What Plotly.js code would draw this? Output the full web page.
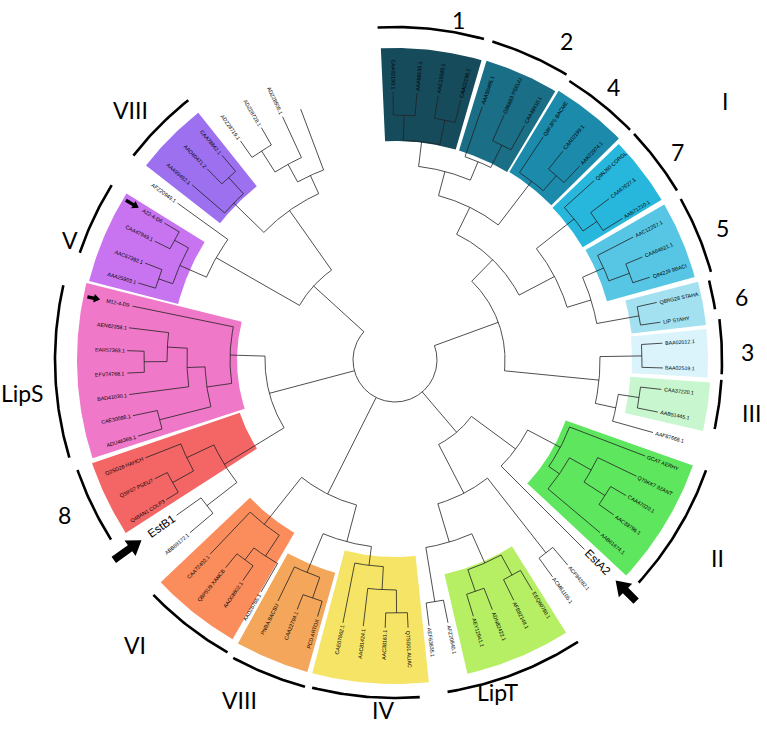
<!DOCTYPE html>
<html><head><meta charset="utf-8">
<script src="https://cdn.plot.ly/plotly-3.0.1.min.js"></script>
<style>html,body{margin:0;padding:0;background:#fff}#chart{width:767px;height:732px}</style>
</head><body><div id="chart"></div>
<script>
// ---------- DATA ----------
const leafNames = ["CAA02190.1","AAA88135.1","AAC15585.1","CAA02196.1","AAA50465.1","O86883 PSEUU","CAA48410.1",
"Q8KJP5 BACME","CAA02199.1","AAK22974.1","Q9NJ60 CORGL","CAA67627.1","AAB71210.1","AAC12257.1","CAA64621.1",
"Q842J9 9BACI","Q6RG28 STAHA","LIP STAHY","BAA02012.1","BAA02519.1","CAA37220.1","AAB51445.1","AAF87668.1",
"GCAT AERHY","Q79KK7 9ZANT","CAA47020.1","AAC38796.1","AAB61674.1","EstA2","ACF94282.1","ACM61105.1",
"EEQ60780.1","AFB82148.1","ADN82422.1","AEY12941.1","AFZ20840.1","AEF63835.1","Q7SG01 ALIAC","AAC38161.1",
"AAC81424.1","CAE07862.1","PCD ARTOX","CAA22794.1","PNBA BACSU","AAD26765.1","AAO08602.1","Q8P5U9 XANCB",
"CAA72402.1","ABB88172.1","EstB1","Q48AN1 COLP3","Q3IF07 PSEU7","Q2SD28 HAHCH","ADU46369.1","CAE30088.1",
"BAD41030.1","EFV74768.1","EAR57363.1","AEN62358.1","M12-4-D9","AAA25903.1","AAC67392.1","CAA47949.1",
"A22-4-D6","AFZ20949.1","AAA99492.1","AAO60471.2","CAA78842.1","ADZ28719.1","ADZ28728.1","ADZ28505.1",""];
const leafAngles = [-0.4,4.7,9.3,14.2,19,24,28.9,33.6,38.8,43.6,48,53,58.1,62.7,67.4,72,77.6,81.9,86.4,91.7,
96.3,101.2,105.7,111,115.7,120.4,125.3,130.1,135,139.9,144,149.2,153.7,158.7,163,168.6,172.7,177.2,182.1,
186.8,191.2,196.8,201.4,205.9,210,214.6,219.2,223.6,229.9,234.6,238.6,243.7,248.6,253.5,258,262.6,267.2,
272,276.9,281.6,286.7,291.2,296.3,300.7,305.8,310.8,315.5,319.8,324.8,330.1,335.2,339.4];
const boldLeaves = ["EstA2","EstB1"];

// tree topology: (children)nodeRadius, leaves given by index
const treeTop = "((((((0,1)245,(2,3)245)220,(4,(5,6)240)215)195,(7,(8,9)245)225)170,((10,(11,12)245)228,((13,(14,15)250)228,(16,17)248)205)180)140,((18,19)247,((20,21)247,22)226)205)110";
const treeRight = "(((23,((24,(25,26)250)225,27)200)187,28)150,((29,30)245,(((31,32)245,(33,34)245)222,(35,36)245)190)150)95";
const treeBottom = "((((((37,38)253,39)230,40)207,((41,42)252,43)230)188,((44,(45,46)250)235,47)210)150)";
const treeLeft = "(((48,49)238,((50,51)254,52)230)200,(((((56,57)251,58)228,55)208,(53,54)243)190,59)165)130";
const treeUpper = "((((60,61)250,(62,63)251)235,64)206,((65,(66,67)247)225,(((68,69)248,70)223,71)203)183)110";
const rootRadius = 42;

// coloured clade sectors
const sectorNames = ["1","2","4","7","5","6","3","III","II","LipT","IV","VIIIb","VI","8","LipS","V","VIIIt"];
const sectorA0 = [-2.6,17,31.3,46,60,75.5,84.3,94.1,109.5,147.9,174,195.7,210.2,237.3,252,284.5,308];
const sectorA1 = [16.1,30.8,45.3,59,74.5,83.6,93.2,103,133,167,194.8,209,226.5,251.2,284,301.8,321.5];
const sectorR0 = [219,219,220,219,220,238,237,236,181,220,197,221,200,164,158,224,222];
const sectorR1 = [312,313,315,311,311,313,313,316,316,322,324,324,323,320,318,316,316];
const sectorColors = ["#164b5c","#1a6e86","#1b8aab","#27b7dd","#56c6e4","#a3e1f1","#dbf4fb","#c8f6cf",
"#5ee65e","#b6ef63","#f6e466","#f4a65a","#fb8d5d","#f46565","#f078c8","#c874f0","#9d70f0"];

// thick group arcs
const arcA0 = [-3,17,32,46.6,60.6,75.8,82.8,93.5,109.5,147,175.8,195.4,209.8,237.7,253.3,288.8,308];
const arcA1 = [15.5,31,45.6,59,74.4,81,92.5,102.2,132.4,171,194.2,208.5,225.8,250.9,282.7,301.7,321.5];
const arcR  = [333,333,329,329,328,324,327,327,330,336,338,339,337,336,340,333,332];

// group labels
const groupText = ["1","2","4","7","5","6","3","III","I","II","LipT","IV","VIII","VI","8","LipS","V","VIII"];
const groupAngle = [10.6,28.2,38.7,53.7,68,79.7,88.7,98.5,51.9,121.5,162.9,181.9,204.5,222.4,244.8,265,290.3,313.3];
const groupRadius = [346,362,350,351,353,352,353,360,419,378,347,350,374,386,365,374,346,364];

// arrows (leaf index, tail radius, head radius, size)
const arrowLeaf = [49,28,59,63];
const arrowTail = [345,341,314,313];
const arrowHead = [311,312,301,298];
const arrowSize = [1,1,0.45,0.45];

// ---------- GEOMETRY ----------
const CX = 395, CY = 360, TIP = 268;
const rad = d => d*Math.PI/180;
const px = (a,r) => CX + r*Math.sin(rad(a));
const py = (a,r) => CY - r*Math.cos(rad(a));

function parse(s){
  let i=0;
  function node(){
    if(s[i]==='('){
      i++; const kids=[];
      while(i<s.length){ kids.push(node()); if(s[i]===','){i++;continue;} if(s[i]===')'){i++;break;} break; }
      let num=''; while(i<s.length && /[0-9.]/.test(s[i])) num+=s[i++];
      return {kids, r: num===''?null:+num};
    } else {
      let num=''; while(i<s.length && /[0-9]/.test(s[i])) num+=s[i++];
      return {leaf:+num};
    }
  }
  return node();
}
const subtrees = [treeTop,treeRight,treeBottom,treeLeft,treeUpper].map(parse);
const rootKids = subtrees.map(t => (t.r===null && t.kids && t.kids.length===1) ? t.kids[0] : t);
const root = {kids: rootKids, r: rootRadius};

const tx=[], ty=[];
function arc(a0,a1,r,X,Y){ const n=Math.max(2,Math.ceil(Math.abs(a1-a0)/0.5)); for(let k=0;k<=n;k++){const a=a0+(a1-a0)*k/n; X.push(px(a,r)); Y.push(py(a,r));} }
function layout(n){
  if(n.leaf!==undefined){ n.ang=leafAngles[n.leaf]; n.rr=TIP; return; }
  n.kids.forEach(layout);
  const as=n.kids.map(k=>k.ang);
  n.a0=Math.min(...as); n.a1=Math.max(...as); n.ang=(n.a0+n.a1)/2; n.rr=n.r;
  arc(n.a0,n.a1,n.r,tx,ty); tx.push(null); ty.push(null);
  n.kids.forEach(k=>{ tx.push(px(k.ang,n.r),px(k.ang,k.rr),null); ty.push(py(k.ang,n.r),py(k.ang,k.rr),null); });
}
layout(root);

const traces=[];
sectorNames.forEach((nm,i)=>{
  const X=[],Y=[];
  arc(sectorA0[i],sectorA1[i],sectorR1[i],X,Y);
  arc(sectorA1[i],sectorA0[i],sectorR0[i],X,Y);
  X.push(X[0]); Y.push(Y[0]);
  traces.push({type:'scatter',mode:'lines',x:X,y:Y,fill:'toself',fillcolor:sectorColors[i],line:{width:0,color:sectorColors[i]},hoverinfo:'skip',name:nm});
});
traces.push({type:'scatter',mode:'lines',x:tx,y:ty,line:{color:'#222',width:0.8},hoverinfo:'skip',connectgaps:false});
arcR.forEach((r,i)=>{ const X=[],Y=[]; arc(arcA0[i],arcA1[i],r,X,Y);
  traces.push({type:'scatter',mode:'lines',x:X,y:Y,line:{color:'#000',width:2.6},hoverinfo:'skip'}); });
arrowLeaf.forEach((lf,i)=>{
  const a=leafAngles[lf], s=arrowSize[i];
  const x0=px(a,arrowTail[i]), y0=py(a,arrowTail[i]), x1=px(a,arrowHead[i]), y1=py(a,arrowHead[i]);
  const L=Math.hypot(x1-x0,y1-y0), ux=(x1-x0)/L, uy=(y1-y0)/L, vx=-uy, vy=ux;
  const sw=3.8*s, hw=9.5*s, hl=14*s;
  const pts=[[0,-sw],[L-hl,-sw],[L-hl,-hw],[L,0],[L-hl,hw],[L-hl,sw],[0,sw],[0,-sw]];
  traces.push({type:'scatter',mode:'lines',x:pts.map(p=>x0+ux*p[0]+vx*p[1]),y:pts.map(p=>y0+uy*p[0]+vy*p[1]),
    fill:'toself',fillcolor:'#000',line:{width:0,color:'#000'},hoverinfo:'skip'});
});

const cv=document.createElement('canvas').getContext('2d');
const annotations=[];
leafNames.forEach((nm,i)=>{
  if(!nm) return;
  const bold=boldLeaves.includes(nm);
  const fs=bold?11.5:5.3;
  cv.font=fs+"px 'Liberation Sans'";
  const w=cv.measureText(nm).width;
  const a=leafAngles[i];
  const rc=TIP+(bold?3:2.5)+w/2;
  const ang=((a%360)+360)%360;
  const ta = ang<180 ? ang-90 : ang-270;
  annotations.push({x:px(a,rc),y:py(a,rc),xref:'x',yref:'y',text:nm,showarrow:false,textangle:ta,
    font:{family:"Liberation Sans, Arial, sans-serif",size:fs,color:'#000'},xanchor:'center',yanchor:'middle',borderpad:0});
});
groupText.forEach((t,i)=>{
  annotations.push({x:px(groupAngle[i],groupRadius[i]),y:py(groupAngle[i],groupRadius[i]),xref:'x',yref:'y',text:t,showarrow:false,
    font:{family:"Lato, sans-serif",size:23,color:'#000'},xanchor:'center',yanchor:'middle',borderpad:0});
});

Plotly.newPlot('chart',traces,{
  width:767,height:732,margin:{l:0,r:0,t:0,b:0},paper_bgcolor:'#fff',plot_bgcolor:'#fff',showlegend:false,
  xaxis:{range:[0,767],visible:false,fixedrange:true},
  yaxis:{range:[732,0],visible:false,fixedrange:true},
  annotations:annotations,hovermode:false
},{staticPlot:true});
</script></body></html>
